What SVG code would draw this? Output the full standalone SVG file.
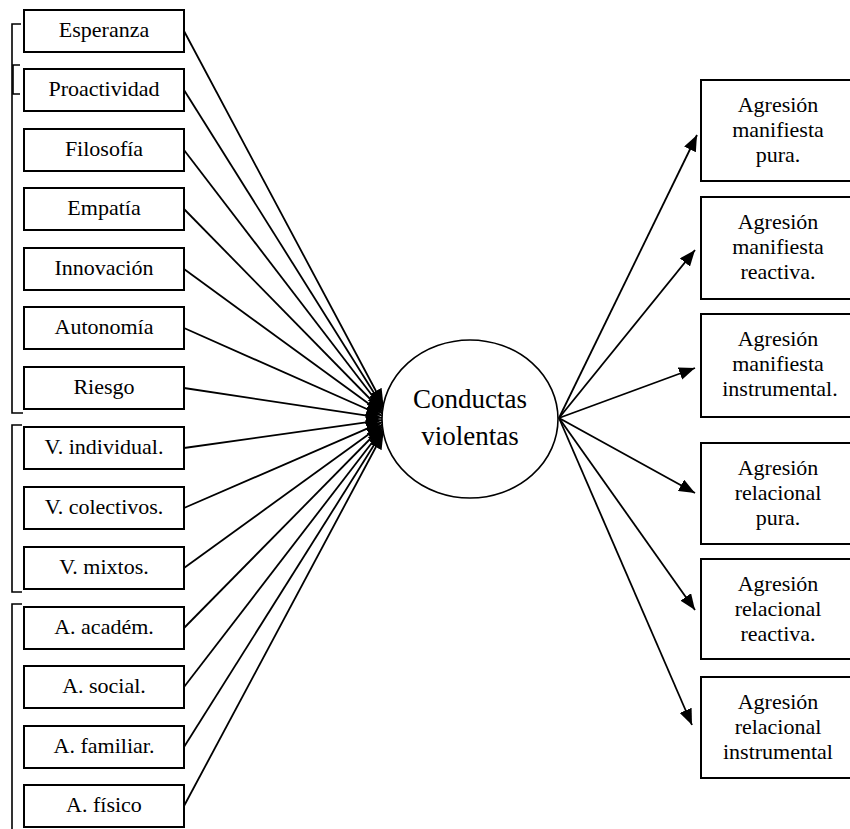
<svg xmlns="http://www.w3.org/2000/svg" width="850" height="829" viewBox="0 0 850 829">
<style>
.box{fill:#fff;stroke:#000;stroke-width:2}
text{font-family:'Liberation Serif','DejaVu Serif',serif;font-size:22px;fill:#000;text-anchor:middle}
.big{font-size:27px}
.c{stroke:#000;stroke-width:1.8;fill:none}
.br{stroke:#000;stroke-width:1.6;fill:none}
</style>
<defs>
<marker id="ah" markerWidth="16" markerHeight="13" refX="16" refY="6.5" orient="auto" markerUnits="userSpaceOnUse"><path d="M0,0 L16,6.5 L0,13 z" fill="#000"/></marker>
</defs>
<rect width="850" height="829" fill="#fff"/>
<g id="brackets">
<path class="br" d="M21,24 H12 V413 H23"/>
<path class="br" d="M20,65 H13 V94 H20"/>
<path class="br" d="M22,425 H12 V592 H22"/>
<path class="br" d="M22,604 H12 V829"/>
</g>
<g id="connectors">
<line class="c" x1="184" y1="31" x2="383.4" y2="405" marker-end="url(#ah)"/>
<line class="c" x1="184" y1="90" x2="383.0" y2="407.2" marker-end="url(#ah)"/>
<line class="c" x1="184" y1="150" x2="382.7" y2="409.3" marker-end="url(#ah)"/>
<line class="c" x1="184" y1="209" x2="382.4" y2="411.5" marker-end="url(#ah)"/>
<line class="c" x1="184" y1="269" x2="382.2" y2="413.6" marker-end="url(#ah)"/>
<line class="c" x1="184" y1="328" x2="382.1" y2="415.8" marker-end="url(#ah)"/>
<line class="c" x1="184" y1="388" x2="382.0" y2="417.9" marker-end="url(#ah)"/>
<line class="c" x1="184" y1="448" x2="382.0" y2="420.1" marker-end="url(#ah)"/>
<line class="c" x1="184" y1="508" x2="382.1" y2="422.2" marker-end="url(#ah)"/>
<line class="c" x1="184" y1="568" x2="382.2" y2="424.4" marker-end="url(#ah)"/>
<line class="c" x1="184" y1="628" x2="382.4" y2="426.5" marker-end="url(#ah)"/>
<line class="c" x1="184" y1="687" x2="382.7" y2="428.7" marker-end="url(#ah)"/>
<line class="c" x1="184" y1="747" x2="383.0" y2="430.8" marker-end="url(#ah)"/>
<line class="c" x1="184" y1="806" x2="383.4" y2="433" marker-end="url(#ah)"/>
<line class="c" x1="559" y1="418" x2="697" y2="135" marker-end="url(#ah)"/>
<line class="c" x1="559" y1="418" x2="695" y2="250" marker-end="url(#ah)"/>
<line class="c" x1="559" y1="418" x2="695" y2="368" marker-end="url(#ah)"/>
<line class="c" x1="559" y1="418" x2="695" y2="493" marker-end="url(#ah)"/>
<line class="c" x1="559" y1="418" x2="695" y2="610" marker-end="url(#ah)"/>
<line class="c" x1="559" y1="418" x2="692" y2="725" marker-end="url(#ah)"/>
</g>
<g id="n-esperanza"><rect class="box" x="24" y="10" width="160" height="42"/><text x="104" y="37">Esperanza</text></g>
<g id="n-proactividad"><rect class="box" x="24" y="69" width="160" height="42"/><text x="104" y="96">Proactividad</text></g>
<g id="n-filosofia"><rect class="box" x="24" y="129" width="160" height="42"/><text x="104" y="156">Filosofía</text></g>
<g id="n-empatia"><rect class="box" x="24" y="188" width="160" height="42"/><text x="104" y="215">Empatía</text></g>
<g id="n-innovacion"><rect class="box" x="24" y="248" width="160" height="42"/><text x="104" y="275">Innovación</text></g>
<g id="n-autonomia"><rect class="box" x="24" y="307" width="160" height="42"/><text x="104" y="334">Autonomía</text></g>
<g id="n-riesgo"><rect class="box" x="24" y="367" width="160" height="42"/><text x="104" y="394">Riesgo</text></g>
<g id="n-vindividual"><rect class="box" x="24" y="427" width="160" height="42"/><text x="104" y="454">V. individual.</text></g>
<g id="n-vcolectivos"><rect class="box" x="24" y="487" width="160" height="42"/><text x="104" y="514">V. colectivos.</text></g>
<g id="n-vmixtos"><rect class="box" x="24" y="547" width="160" height="42"/><text x="104" y="574">V. mixtos.</text></g>
<g id="n-aacadem"><rect class="box" x="24" y="607" width="160" height="42"/><text x="104" y="634">A. académ.</text></g>
<g id="n-asocial"><rect class="box" x="24" y="666" width="160" height="42"/><text x="104" y="693">A. social.</text></g>
<g id="n-afamiliar"><rect class="box" x="24" y="726" width="160" height="42"/><text x="104" y="753">A. familiar.</text></g>
<g id="n-afisico"><rect class="box" x="24" y="785" width="160" height="42"/><text x="104" y="812">A. físico</text></g>
<g id="n-conductas"><ellipse cx="470" cy="419" rx="88" ry="79" fill="#fff" stroke="#000" stroke-width="1.6"/><text class="big" x="470" y="408">Conductas</text><text class="big" x="470" y="445">violentas</text></g>
<g id="n-amp"><rect class="box" x="701" y="80" width="160" height="101"/><text x="778" y="112">Agresión<tspan x="778" dy="25">manifiesta</tspan><tspan x="778" dy="25">pura.</tspan></text></g>
<g id="n-amr"><rect class="box" x="701" y="197" width="160" height="102"/><text x="778" y="229">Agresión<tspan x="778" dy="25">manifiesta</tspan><tspan x="778" dy="25">reactiva.</tspan></text></g>
<g id="n-ami"><rect class="box" x="701" y="314" width="160" height="103"/><text x="778" y="346">Agresión<tspan x="778" dy="25">manifiesta</tspan><tspan x="780" dy="25">instrumental.</tspan></text></g>
<g id="n-arp"><rect class="box" x="701" y="443" width="160" height="101"/><text x="778" y="475">Agresión<tspan x="778" dy="25">relacional</tspan><tspan x="778" dy="25">pura.</tspan></text></g>
<g id="n-arr"><rect class="box" x="701" y="559" width="160" height="100"/><text x="778" y="591">Agresión<tspan x="778" dy="25">relacional</tspan><tspan x="778" dy="25">reactiva.</tspan></text></g>
<g id="n-ari"><rect class="box" x="701" y="677" width="160" height="101"/><text x="778" y="709">Agresión<tspan x="778" dy="25">relacional</tspan><tspan x="778" dy="25">instrumental</tspan></text></g>
</svg>
